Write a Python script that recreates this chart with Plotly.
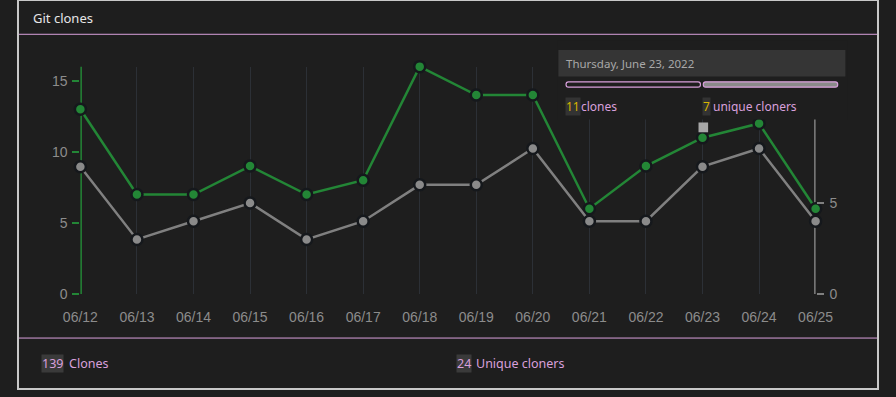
import plotly.graph_objects as go

W, H = 896, 397

dates = ["06/12", "06/13", "06/14", "06/15", "06/16", "06/17", "06/18",
         "06/19", "06/20", "06/21", "06/22", "06/23", "06/24", "06/25"]
clones = [13, 7, 7, 9, 7, 8, 16, 14, 14, 6, 9, 11, 12, 6]
unique_cloners = [7, 3, 4, 5, 3, 4, 6, 6, 8, 4, 4, 7, 8, 4]
left_ticks = [0, 5, 10, 15]
right_ticks = [0, 5, 10]
total_clones = 139
total_unique = 24
hover_label = "Thursday, June 23, 2022"
hover_clones = 11
hover_unique = 7

BG = "#1e1e1e"
GREEN = "#238636"
GRAY = "#808080"
PLUM = "#d9a0dc"
YELLOW = "#d7b500"
TICKC = "#8c8c8c"
FONT_UI = "Noto Sans"
FONT_AX = "Liberation Sans"


def px(x):
    return x / W


def py(y):
    return 1 - y / H


def rounded(x0, y0, x1, y1, r):
    X0, X1 = px(x0), px(x1)
    Y0, Y1 = py(y0), py(y1)
    rx, ry = r / W, r / H
    return (f"M {X0+rx},{Y0} L {X1-rx},{Y0} Q {X1},{Y0} {X1},{Y0-ry} "
            f"L {X1},{Y1+ry} Q {X1},{Y1} {X1-rx},{Y1} L {X0+rx},{Y1} "
            f"Q {X0},{Y1} {X0},{Y1+ry} L {X0},{Y0-ry} Q {X0},{Y0} {X0+rx},{Y0} Z")


fig = go.Figure()
fig.add_trace(go.Scatter(
    x=dates, y=unique_cloners, yaxis="y2", mode="lines+markers",
    line=dict(color=GRAY, width=2.5),
    marker=dict(size=11, color="#8a8a8a", line=dict(color="#15181c", width=2.5)),
    cliponaxis=False, showlegend=False, hoverinfo="skip"))
fig.add_trace(go.Scatter(
    x=dates, y=clones, mode="lines+markers",
    line=dict(color=GREEN, width=2.5),
    marker=dict(size=11, color=GREEN, line=dict(color="#15181c", width=2.5)),
    cliponaxis=False, showlegend=False, hoverinfo="skip"))

shapes = []
shapes.append(dict(type="rect", xref="paper", yref="paper", x0=0, x1=1, y0=0, y1=1,
                   line=dict(color="#c8c8c8", width=2), fillcolor="rgba(0,0,0,0)", layer="above"))
for yy in (35, 345):
    shapes.append(dict(type="line", xref="paper", yref="paper", x0=px(1), x1=px(895),
                       y0=py(yy), y1=py(yy), line=dict(color=PLUM, width=1)))
shapes.append(dict(type="line", xref="x", yref="y domain", x0=0, x1=0, y0=0, y1=1,
                   line=dict(color=GREEN, width=3), layer="below"))
shapes.append(dict(type="line", xref="x", yref="y domain", x0=len(dates) - 1, x1=len(dates) - 1,
                   y0=0, y1=1, line=dict(color=GRAY, width=3), layer="below"))
shapes.append(dict(type="rect", xref="paper", yref="paper", x0=px(562), x1=px(864),
                   y0=py(122), y1=py(41), fillcolor=BG, line=dict(width=0), layer="above"))
shapes.append(dict(type="rect", xref="paper", yref="paper", x0=px(563), x1=px(862),
                   y0=py(78), y1=py(51), fillcolor="#353535", line=dict(width=0), layer="above"))
shapes.append(dict(type="path", xref="paper", yref="paper", path=rounded(571, 83.5, 711, 89, 2.5),
                   fillcolor=BG, line=dict(color=PLUM, width=1.2), layer="above"))
shapes.append(dict(type="path", xref="paper", yref="paper", path=rounded(714, 83.5, 854, 89, 2.5),
                   fillcolor="#8a8a8a", line=dict(color=PLUM, width=1.2), layer="above"))
shapes.append(dict(type="rect", xref="paper", yref="paper", x0=px(709), x1=px(719),
                   y0=py(135), y1=py(125), fillcolor="#a8a8a8", line=dict(width=0), layer="above"))

annotations = [
    dict(text="Git clones", x=px(14), y=py(18), xanchor="left", yanchor="middle",
         font=dict(family=FONT_UI, size=13, color="#e6e6e6")),
    dict(text=hover_label, x=px(569), y=py(65), xanchor="left", yanchor="middle",
         font=dict(family=FONT_UI, size=11.5, color="#a8a8a8")),
    dict(text=str(hover_clones), x=px(570), y=py(109), xanchor="left", yanchor="middle",
         bgcolor="#333333", borderpad=0,
         font=dict(family=FONT_UI, size=12, color=YELLOW)),
    dict(text="clones", x=px(585), y=py(109), xanchor="left", yanchor="middle",
         font=dict(family=FONT_UI, size=12, color=PLUM)),
    dict(text=str(hover_unique), x=px(713), y=py(109), xanchor="left", yanchor="middle",
         bgcolor="#333333", borderpad=0,
         font=dict(family=FONT_UI, size=12, color=YELLOW)),
    dict(text="unique cloners", x=px(722), y=py(109), xanchor="left", yanchor="middle",
         font=dict(family=FONT_UI, size=12, color=PLUM)),
    dict(text=str(total_clones), x=px(24), y=py(371), xanchor="left", yanchor="middle",
         bgcolor="#3a3a3a", borderpad=0,
         font=dict(family=FONT_UI, size=12.5, color=PLUM)),
    dict(text="Clones", x=px(51.5), y=py(371), xanchor="left", yanchor="middle",
         font=dict(family=FONT_UI, size=12.5, color=PLUM)),
    dict(text=str(total_unique), x=px(456), y=py(371), xanchor="left", yanchor="middle",
         bgcolor="#3a3a3a", borderpad=0,
         font=dict(family=FONT_UI, size=12.5, color=PLUM)),
    dict(text="Unique cloners", x=px(475), y=py(371), xanchor="left", yanchor="middle",
         font=dict(family=FONT_UI, size=12.5, color=PLUM)),
]
for a in annotations:
    a.update(xref="paper", yref="paper", showarrow=False)

fig.update_layout(
    autosize=True,
    margin=dict(l=0, r=0, t=0, b=0, pad=0),
    paper_bgcolor=BG, plot_bgcolor=BG,
    xaxis=dict(domain=[px(65), px(831)], type="category", range=[0, len(dates) - 1],
               showgrid=True, gridcolor="#2c3036", gridwidth=1,
               showline=False, zeroline=False, ticks="",
               tickfont=dict(family=FONT_AX, size=14, color=TICKC),
               ticklabelstandoff=13, fixedrange=True),
    yaxis=dict(domain=[1 - 300 / H, 1 - 68 / H], range=[0, 16], tickvals=left_ticks,
               showgrid=False, zeroline=False, showline=False,
               ticks="outside", ticklen=7, tickwidth=2, tickcolor=GREEN,
               tickfont=dict(family=FONT_AX, size=14, color=TICKC), ticklabelstandoff=2),
    yaxis2=dict(domain=[1 - 300 / H, 1 - 68 / H], range=[0, 12.5], tickvals=right_ticks,
                overlaying="y", side="right", anchor="x",
                showgrid=False, zeroline=False, showline=False,
                ticks="outside", ticklen=7, tickwidth=2, tickcolor=GRAY,
                tickfont=dict(family=FONT_AX, size=14, color=TICKC), ticklabelstandoff=3),
    shapes=shapes, annotations=annotations,
)

html = fig.to_html(
    config={"displayModeBar": False, "responsive": True},
    default_width="100vw", default_height="100vh",
)
html = html.replace(
    "<head>",
    "<head><style>html,body{margin:0;padding:0;overflow:hidden;background:#1e1e1e;}</style>",
    1,
)
with open("out.html", "w", encoding="utf-8") as f:
    f.write(html)

if False:
    fig.write_html("out.html")
